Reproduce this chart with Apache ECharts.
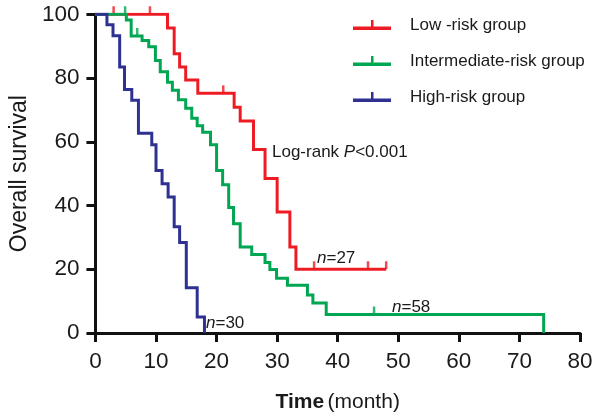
<!DOCTYPE html>
<html>
<head>
<meta charset="utf-8">
<script src="https://cdn.jsdelivr.net/npm/echarts@6/dist/echarts.min.js"></script>
<style>
html,body{margin:0;padding:0;background:#fff;}
#chart{width:600px;height:418px;}
</style>
</head>
<body>
<div id="chart"></div>
<script>
// ---- data (time in months, overall survival %) ----
const groupNames = ['Low -risk group', 'Intermediate-risk group', 'High-risk group'];
const lowRisk = [[0,100],[11.9,95.7],[13.0,87.6],[13.9,83.5],[14.9,79.4],[16.9,75.2],[22.9,70.8],[23.9,66.5],[26.1,57.6],[28.0,48.5],[30.0,38.0],[32.1,27.0],[33.1,20.0],[48.0,20.0]];
const lowCensor = [[3.0,100],[9.0,100],[21.1,75.2],[36.1,20.0],[45.0,20.0],[48.0,20.0]];
const midRisk = [[0,100],[5.1,98.2],[5.9,93.2],[7.7,91.8],[8.8,89.8],[9.9,85.5],[10.7,82.0],[11.9,78.7],[12.7,76.2],[13.7,73.2],[14.9,70.5],[15.9,67.4],[16.8,65.0],[17.7,63.0],[19.0,59.1],[20.0,51.0],[21.0,46.5],[22.0,39.4],[22.8,34.3],[23.9,27.0],[25.8,24.6],[28.0,22.1],[28.8,19.9],[29.9,17.2],[31.7,15.0],[35.0,11.9],[35.9,9.4],[38.1,5.8],[74.0,5.8],[74.0,0]];
const midCensor = [[4.9,100],[6.9,93.2],[46.0,5.8]];
const highRisk = [[0,100],[1.9,96.7],[2.9,93.3],[4.0,83.5],[4.8,76.4],[6.0,73.0],[7.1,62.7],[9.3,59.1],[10.0,51.0],[11.0,46.8],[12.0,42.7],[13.0,33.3],[13.9,28.4],[15.0,14.2],[16.8,5.0],[18.0,0]];
const colors = ['#ed1c24', '#00a651', '#2e3192'];
const xRange = [0, 80, 10];
const yRange = [0, 100, 20];

const chart = echarts.init(document.getElementById('chart'), null, {renderer: 'canvas'});
const FONT = 'Liberation Sans, Arial, Helvetica, sans-serif';
const TXT = '#1a1a1a';
const legendIcon = 'path://M0,6.5 L38,6.5 L38,10 L0,10 Z M18,0 L20.5,0 L20.5,7 L18,7 Z';

function lineSeries(name, data, color) {
  return {
    name: name, type: 'line', step: 'end', data: data,
    showSymbol: false, symbol: 'none', silent: true,
    lineStyle: {color: color, width: 3, cap: 'butt', join: 'miter'},
    itemStyle: {color: color}, animation: false
  };
}
function censorSeries(name, data, color) {
  return {
    name: name, type: 'scatter', data: data,
    symbol: 'rect', symbolSize: [2.5, 8], symbolOffset: [0, -4],
    itemStyle: {color: color}, silent: true, animation: false
  };
}
const richN = {a: {fontSize: 17, fontFamily: FONT, fill: TXT}, i: {fontSize: 17, fontFamily: FONT, fontStyle: 'italic', fill: TXT}};

const option = {
  backgroundColor: '#ffffff',
  animation: false,
  grid: {left: 85.5, right: 20, top: 14.3, bottom: 75.5, containLabel: false},
  legend: {
    orient: 'vertical', left: 348, top: 10.5,
    itemWidth: 38, itemHeight: 10, itemGap: 17,
    selectedMode: false,
    data: groupNames.map(n => ({name: n, icon: legendIcon})),
    textStyle: {fontSize: 17, fontFamily: FONT, color: TXT, padding: [0, 0, 0, 14], lineHeight: 19}
  },
  xAxis: {
    type: 'value', min: xRange[0], max: xRange[1], interval: xRange[2],
    axisLine: {lineStyle: {color: '#111', width: 3}},
    axisTick: {length: 9, lineStyle: {color: '#111', width: 3}},
    splitLine: {show: false},
    axisLabel: {fontSize: 22.5, fontFamily: FONT, color: TXT, margin: 17},
    name: '{b|Time} {n|(month)}',
    nameLocation: 'middle', nameGap: 59,
    nameTextStyle: {
      rich: {
        b: {fontSize: 21, fontWeight: 'bold', fontFamily: FONT, color: TXT},
        n: {fontSize: 21, fontFamily: FONT, color: TXT}
      }
    }
  },
  yAxis: {
    type: 'value', min: yRange[0], max: yRange[1], interval: yRange[2],
    axisLine: {show: true, lineStyle: {color: '#111', width: 3}},
    axisTick: {show: true, length: 9, lineStyle: {color: '#111', width: 3}},
    splitLine: {show: false},
    axisLabel: {fontSize: 22.5, fontFamily: FONT, color: TXT, margin: 16},
    name: 'Overall survival', nameLocation: 'middle', nameGap: 60, nameRotate: 90,
    nameTextStyle: {fontSize: 23, fontFamily: FONT, color: TXT}
  },
  series: [
    lineSeries(groupNames[0], lowRisk, colors[0]),
    censorSeries('lowCensor', lowCensor, colors[0]),
    lineSeries(groupNames[1], midRisk, colors[1]),
    censorSeries('midCensor', midCensor, colors[1]),
    lineSeries(groupNames[2], highRisk, colors[2])
  ],
  graphic: [
    {type: 'text', x: 272, y: 152, style: {text: '{a|Log-rank }{i|P}{a|<0.001}', verticalAlign: 'middle', align: 'left', rich: richN}},
    {type: 'text', x: 317, y: 258, style: {text: '{i|n}{a|=27}', verticalAlign: 'middle', align: 'left', rich: richN}},
    {type: 'text', x: 392, y: 307, style: {text: '{i|n}{a|=58}', verticalAlign: 'middle', align: 'left', rich: richN}},
    {type: 'text', x: 206, y: 323, style: {text: '{i|n}{a|=30}', verticalAlign: 'middle', align: 'left', rich: richN}}
  ]
};
chart.setOption(option);
</script>
</body>
</html>
